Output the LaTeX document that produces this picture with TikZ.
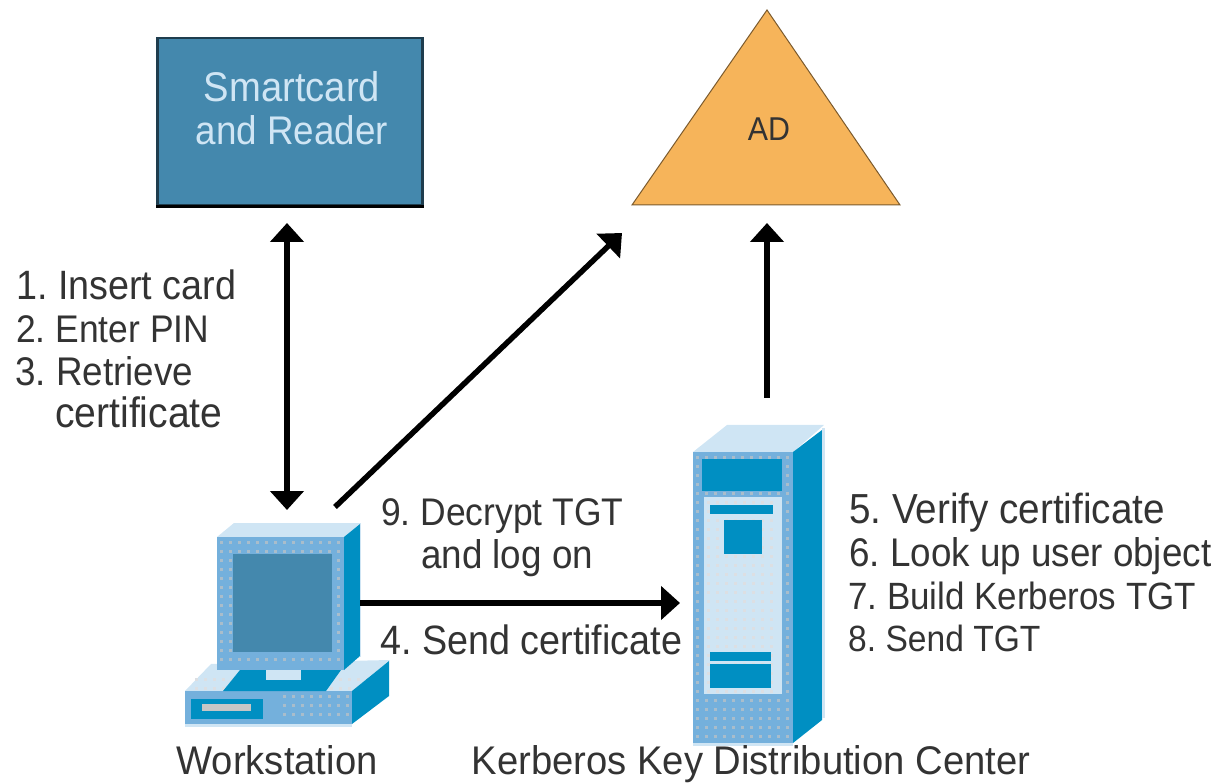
\documentclass[tikz,border=0pt]{standalone}
\usepackage{fontspec}
\setmainfont{Liberation Sans}
\newfontfamily\narrowsans[FakeStretch=0.92]{Liberation Sans}
\newfontfamily\widersans[FakeStretch=0.955]{Liberation Sans}
\usetikzlibrary{arrows.meta}
\definecolor{steel}{HTML}{4488AD}
\definecolor{midblue}{HTML}{74B0DC}
\definecolor{lightblue}{HTML}{CFE5F4}
\definecolor{deepblue}{HTML}{008FC2}
\definecolor{adorange}{HTML}{F6B45A}
\definecolor{inkgrey}{HTML}{333333}
\definecolor{dotgrey}{HTML}{A9BDCB}
\definecolor{dotpale}{HTML}{DCDFE3}
\tikzset{
  x=1pt,y=-1pt,
  lbl/.style={font=\narrowsans\fontsize{40}{43}\selectfont,text=inkgrey,inner sep=0pt,anchor=base west},
  lblbig/.style={lbl,font=\narrowsans\fontsize{41}{43}\selectfont},
  lblsized/.style={lbl,font=\narrowsans\fontsize{#1}{43}\selectfont},
  lblcaption/.style={lbl,anchor=base,font=\widersans\fontsize{40}{43}\selectfont},
  cardtext/.style={font=\narrowsans\fontsize{#1}{43}\selectfont,text=lightblue,inner sep=0pt,anchor=base},
  flow/.style={line width=5.5pt,draw=black,-{Triangle[length=19pt,width=33pt]}},
  flowboth/.style={line width=5.5pt,draw=black,{Triangle[length=19pt,width=33pt]}-{Triangle[length=19pt,width=33pt]}},
  lightpart/.style={fill=lightblue,draw=none},
  midpart/.style={fill=midblue,draw=none},
  deeppart/.style={fill=deepblue,draw=none},
  steelpart/.style={fill=steel,draw=none},
}
\newcommand{\ibox}[3]{\path[#1] #2 rectangle #3;}
% dither of small squares over a box: x0,y0,x1,y1,colour
\newcommand{\dither}[5]{%
  \foreach \dx in {#1,\numexpr#1+9\relax,...,#3}{%
    \foreach \dy in {#2,\numexpr#2+9\relax,...,#4}{%
      \fill[#5] (\dx,\dy) rectangle ++(3,3);}}}
\begin{document}
\begin{tikzpicture}
\useasboundingbox (0,0) rectangle (1221,783);
% smartcard
\node[draw=steel!45!black,line width=2.5pt,fill=steel,minimum width=265pt,minimum height=167pt,inner sep=0pt,anchor=north west] (card) at (156,37) {};
\draw[black,line width=3pt] (card.south west) -- (card.south east);
\node[cardtext=41.5] (cardone) at (292,102) {Smartcard};
\node[cardtext=40] (cardtwo) at (292,145) {and Reader};
% AD
\draw[fill=adorange,draw=adorange!50!black,line width=1pt] (632,205) -- (767,10) -- (900,205) -- cycle;
\node[font=\narrowsans\fontsize{33}{40}\selectfont,text=inkgrey,inner sep=0pt,anchor=base] (ad) at (769,141) {AD};
\coordinate (adbase) at (767,223);
\coordinate (adside) at (622,233);
% base of workstation
\path[lightpart] (185,691) -- (211,664) -- (390,660) -- (352,691) -- cycle;
\dither{195}{678}{370}{684}{dotpale}
\ibox{midpart}{(185,691)}{(352,724)}
\dither{283}{695}{348}{720}{dotgrey}
\ibox{lightpart}{(185,724)}{(352,727)}
\path[deeppart] (352,691) -- (389,661) -- (389,696) -- (352,724) -- cycle;
\ibox{deeppart}{(191,699)}{(263,719)}
\ibox{fill=gray!45,draw=none}{(202,704)}{(251,711)}
% monitor
\path[lightpart] (217,537) -- (234,523) -- (361,523) -- (344,537) -- cycle;
\path[deeppart] (344,537) -- (360,524) -- (360,656) -- (344,670) -- cycle;
\path[lightpart] (360,523) rectangle (361,657);
\ibox{midpart}{(217,537)}{(344,670)}
\dither{220}{541}{340}{666}{dotgrey}
\ibox{steelpart}{(233,554)}{(332,652)}
% monitor foot
\path[deeppart] (223,691) -- (240,670) -- (341,670) -- (326,691) -- cycle;
\path[lightpart] (266,670) rectangle (301,680);
\coordinate (wsdiag) at (335,507);
\coordinate (wstop) at (287,510);
\coordinate (wsright) at (360,603);
% tower
\path[lightpart] (693,452) -- (727,425) -- (824,425) -- (793,452) -- cycle;
\path[deeppart] (793,452) -- (822,430) -- (822,720) -- (793,743) -- cycle;
\path[lightpart] (822,428) rectangle (825,718);
\ibox{midpart}{(693,452)}{(793,743)}
\dither{696}{456}{788}{738}{dotgrey}
\ibox{lightpart}{(693,743)}{(793,746)}
\ibox{deeppart}{(702,459)}{(782,491)}
\ibox{lightpart}{(704,497)}{(782,694)}
\dither{707}{501}{778}{690}{dotpale}
\ibox{deeppart}{(710,505)}{(773,514)}
\ibox{deeppart}{(724,520)}{(762,554)}
\ibox{deeppart}{(710,652)}{(771,661)}
\ibox{deeppart}{(710,664)}{(771,688)}
\coordinate (kdctop) at (767,398);
\coordinate (kdcleft) at (680,603);
% arrows
\coordinate (cardlow) at (287,223);
\draw[flowboth] (cardlow) -- (wstop);
\draw[flow] (wsdiag) -- (adside);
\draw[flow] (kdctop) -- (adbase);
\draw[flow] (wsright) -- (kdcleft);
% labels
\frenchspacing
\node[lblsized=41] (stepa) at (16,300) {1. Insert card};
\node[lblsized=38.5] (stepb) at (16,343) {2. Enter PIN};
\node[lblsized=40] (stepc) at (15,386) {3. Retrieve};
\node[lblsized=42.5] (stepd) at (55,428) {certificate};
\node[lblsized=38.5] (deca) at (381,525) {9. Decrypt TGT};
\node[lbl] (decb) at (421,568) {and log on};
\node[lblbig] (send) at (380,654) {4. Send certificate};
\node[lblsized=42] (kdcv) at (849,523) {5. Verify certificate};
\node[lbl] (kdcl) at (849,566) {6. Look up user object};
\node[lblsized=38] (kdcb) at (848,609) {7. Build Kerberos TGT};
\node[lblsized=36.5] (kdcs) at (848,651) {8. Send TGT};
\node[lblcaption] (wsname) at (277,774) {Workstation};
\node[lblcaption] (kdcname) at (751,774) {Kerberos Key Distribution Center};
\end{tikzpicture}
\end{document}
